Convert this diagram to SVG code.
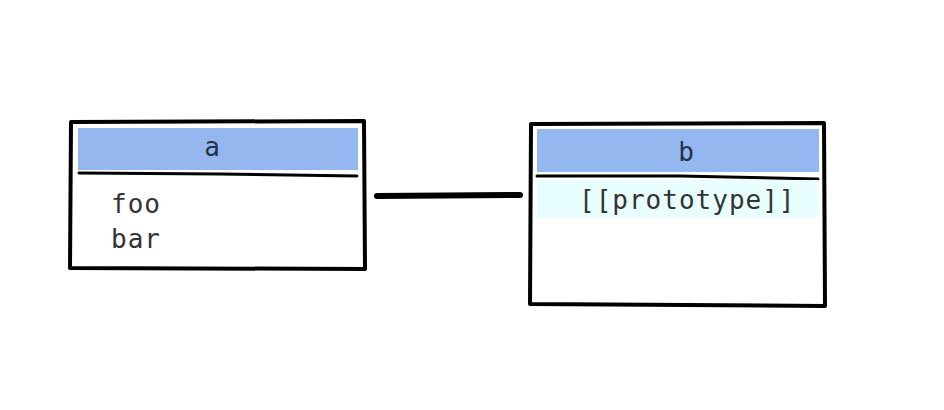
<svg xmlns="http://www.w3.org/2000/svg" width="944" height="410" viewBox="0 0 944 410">
<style>
.frame{fill:#fff;stroke:#000;stroke-width:4;stroke-linejoin:round}
.hdr{fill:#93b7ee}
.sep{fill:none;stroke:#000;stroke-width:3;stroke-linecap:round}
.t{font-family:"DejaVu Sans Mono","Liberation Mono",monospace;font-size:26px;fill:#333;letter-spacing:1px}
.th{font-family:"DejaVu Sans Mono","Liberation Mono",monospace;font-size:26px;fill:#26324a;text-anchor:middle}
.conn{fill:none;stroke:#000;stroke-width:6;stroke-linecap:round}
</style>
<rect width="944" height="410" fill="#fff"/>
<g id="node-a">
<path class="frame" d="M71 122 L364 121 L365 269 L70 268 Z"/>
<rect class="hdr" x="78" y="128" width="280" height="42"/>
<path class="sep" d="M79 173 L220 174 L357 176"/>
<text class="th" x="212" y="156">a</text>
<text class="t" x="111" y="213">foo</text>
<text class="t" x="111" y="248">bar</text>
</g>
<g id="node-b">
<path class="frame" d="M531 124 L824 123 L825 306 L530 304 Z"/>
<rect class="hdr" x="537" y="129" width="282" height="43"/>
<path class="sep" d="M537 176 L680 176 L818 179"/>
<rect x="537" y="180" width="281" height="38" fill="#e9fefe"/>
<text class="th" x="686" y="161">b</text>
<text class="t" x="579" y="209">[[prototype]]</text>
</g>
<g id="connectors">
<path class="conn" d="M377 196 L520 195"/>
</g>
</svg>
